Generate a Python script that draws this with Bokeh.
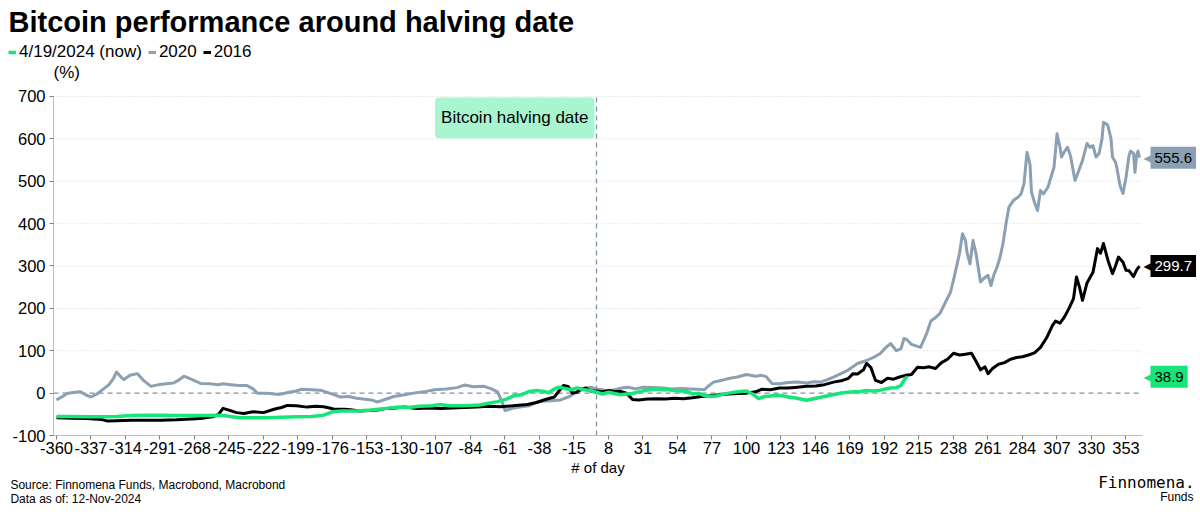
from bokeh.plotting import figure
from bokeh.models import Label, FixedTicker, Legend, LegendItem, Range1d
from bokeh.embed import file_html
from bokeh.resources import INLINE

# ---------------- data ----------------
x_ticks = [-360, -337, -314, -291, -268, -245, -222, -199, -176, -153, -130, -107, -84, -61, -38, -15,
           8, 31, 54, 77, 100, 123, 146, 169, 192, 215, 238, 261, 284, 307, 330, 353]
y_ticks = [-100, 0, 100, 200, 300, 400, 500, 600, 700]

now_days = [-360, -350, -340, -330, -320, -310, -300, -290, -280, -270, -260, -250, -244, -238, -230, -220,
            -210, -200, -190, -182, -176, -170, -160, -150, -140, -133, -126, -118, -110, -104, -98, -90,
            -84, -78, -72, -66, -60, -55, -50, -45, -40, -35, -32, -28, -25, -21, -17, -13, -8, -4, 0, 4,
            8, 12, 16, 20, 24, 28, 32, 36, 40, 44, 48, 52, 56, 60, 64, 68, 72, 76, 80, 84, 88, 92, 96, 100,
            104, 108, 112, 116, 120, 124, 128, 132, 136, 140, 144, 148, 152, 156, 160, 164, 168, 172, 176,
            180, 184, 188, 192, 196, 200, 203, 205, 207]
now_vals = [-55, -55, -56, -56, -55, -53, -52, -52, -53, -53, -53, -52, -55, -58, -58, -58,
            -57, -56, -55, -52, -44, -42, -42, -40, -36, -33, -34, -31, -30, -27, -30, -30,
            -29, -28, -24, -20, -14, -6, -4, 4, 6, 4, 1, 10, 14, 11, 8, 12, 8, 6, 2, -2,
            2, -1, -4, -2, -1, 3, 6, 8, 10, 8, 8, 6, 5, 4, -2, 0, -6, -8, -7, -3, 0, 2, 4, 5,
            -2, -13, -8, -7, -5, -6, -9, -11, -14, -17, -14, -11, -8, -5, -2, 1, 2, 3, 4,
            6, 5, 6, 9, 12, 13, 18, 30, 38.9]

y2016_days = [-360, -350, -340, -330, -326, -320, -310, -300, -290, -280, -270, -262, -256, -252, -249, -245,
              -240, -235, -229, -222, -215, -210, -206, -200, -193, -187, -182, -178, -175, -168, -164, -158,
              -152, -146, -140, -134, -128, -120, -112, -104, -96, -88, -80, -72, -64, -56, -50, -46, -40,
              -34, -28, -25, -22, -19, -16, -13, -10, -7, -4, 0, 4, 8, 12, 16, 20, 24, 28, 34, 40, 46, 52,
              58, 64, 70, 76, 82, 88, 94, 100, 106, 110, 116, 122, 128, 134, 140, 146, 152, 158, 164, 168,
              171, 174, 178, 180, 183, 186, 190, 194, 198, 202, 206, 210, 214, 218, 222, 226, 230, 234, 238,
              242, 246, 250, 253, 256, 259, 261, 264, 268, 272, 276, 280, 284, 288, 292, 296, 300, 304, 306,
              309, 312, 315, 318, 320, 322, 324, 327, 331, 334, 336, 338, 341, 344, 346, 348, 351, 353, 355,
              358, 360, 362]
y2016_vals = [-58, -59, -60, -62, -66, -65, -64, -64, -64, -63, -61, -59, -56, -50, -36, -40,
              -46, -48, -44, -46, -38, -34, -29, -30, -33, -31, -32, -35, -38, -38, -39, -42,
              -41, -40, -36, -35, -33, -36, -35, -36, -35, -34, -33, -31, -32, -30, -28, -27, -22,
              -15, -9, 5, 18, 16, 0, 2, 10, 12, 5, 5, 3, 6, 4, 4, 0, -15, -16, -14, -13, -14, -12,
              -13, -11, -8, -6, -4, -2, -1, 0, 3, 9, 8, 12, 12, 14, 16, 17, 20, 26, 30, 35,
              46, 45, 55, 70, 60, 30, 25, 35, 33, 38, 42, 44, 61, 60, 62, 58, 72, 80, 94,
              90, 92, 94, 75, 55, 62, 46, 58, 68, 72, 80, 84, 86, 90, 95, 108, 130, 160, 170,
              165, 180, 200, 223, 274, 250, 219, 260, 285, 341, 330, 353, 313, 282, 300, 321, 309, 290, 289,
              275, 290, 299.7]

y2020_days = [-360, -356, -353, -348, -344, -340, -337, -333, -329, -325, -322, -320, -317, -315, -311, -306,
              -302, -297, -292, -287, -282, -278, -275, -271, -267, -264, -258, -252, -249, -244, -238, -233,
              -229, -226, -220, -215, -211, -205, -200, -197, -190, -184, -178, -171, -165, -160, -157, -150,
              -146, -141, -135, -128, -122, -115, -108, -100, -93, -88, -82, -75, -70, -66, -63, -61, -56,
              -51, -45, -40, -37, -30, -24, -18, -13, -8, -4, 0, 4, 7, 12, 17, 21, 26, 31, 38, 44, 50, 56,
              62, 68, 72, 74, 78, 83, 89, 94, 100, 106, 110, 113, 117, 122, 128, 134, 140, 145, 149, 154,
              158, 163, 168, 174, 180, 185, 189, 193, 196, 200, 203, 205, 207, 210, 216, 220, 223, 226, 229,
              232, 236, 239, 242, 244, 246, 247, 249, 251, 253, 256, 258, 261, 263, 265, 267, 269, 271, 273,
              275, 278, 281, 283, 285, 287, 289, 290, 292, 294, 296, 298, 301, 303, 305, 307, 309, 310, 312,
              314, 316, 319, 321, 324, 327, 329, 331, 333, 335, 337, 338, 340, 341, 343, 344, 346, 347, 349,
              351, 353, 355, 356, 357, 358, 359, 360, 361, 362]
y2020_vals = [-16, -8, -1, 2, 3, -5, -9, -2, 9, 20, 35, 50, 38, 32, 42, 46,
              30, 16, 20, 22, 24, 32, 40, 34, 28, 23, 22, 20, 22, 20, 18, 18,
              10, 0, 0, -2, -3, 2, 5, 9, 8, 7, 0, -9, -8, -12, -13, -16,
              -21, -15, -8, -4, 0, 3, 8, 10, 13, 19, 15, 16, 10, 3, -20, -41, -36,
              -33, -30, -22, -19, -18, -16, -8, 4, 10, 14, 10, 8, 5, 8, 12, 14, 10, 14, 13, 12, 10, 11,
              10, 9, 8, 15, 26, 30, 35, 38, 44, 40, 42, 39, 23, 22, 25, 26, 24, 27, 26, 32,
              38, 46, 55, 70, 77, 85, 93, 108, 117, 100, 105, 129, 126, 115, 108, 140, 171, 178, 188,
              210, 238, 282, 330, 376, 360, 332, 305, 360, 330, 262, 270, 278, 254, 280, 297, 320, 353, 400,
              439, 455, 462, 470, 494, 568, 540, 474, 450, 431, 478, 470, 486, 510, 533, 612, 580, 557, 570,
              580, 560, 502, 520, 549, 589, 580, 584, 557, 565, 600, 639, 635, 631, 600, 557, 545, 530, 490,
              471, 509, 560, 571, 568, 566, 521, 560, 571, 555.6]

series_names = ["4/19/2024 (now)", "2020", "2016"]
last_values = [38.9, 555.6, 299.7]

# ---------------- style ----------------
GREEN = "#17E57A"
GREY = "#8BA0B3"
BLACK = "#000000"
ZERO = "#7E93A7"
FONT = "Liberation Sans"

# plotting area spans the whole canvas; axes are pinned at the data edges
X0, X1 = -362, 364          # visible axis extent (days)
Y0, Y1 = -100, 700          # visible axis extent (%)

p = figure(width=1200, height=514, output_backend="svg", toolbar_location=None,
           x_range=Range1d(-397.33, 402.67), y_range=Range1d(-286.4, 926.5),
           min_border=0, min_border_left=0, min_border_right=0, min_border_top=0, min_border_bottom=0)
p.outline_line_color = None
p.background_fill_color = "white"
p.border_fill_color = "white"
p.xgrid.visible = False
p.ygrid.visible = False

p.xaxis.ticker = FixedTicker(ticks=x_ticks)
p.yaxis.ticker = FixedTicker(ticks=y_ticks)
p.xaxis.major_label_overrides = {t: str(t) for t in x_ticks}
p.yaxis.major_label_overrides = {t: str(t) for t in y_ticks}
p.xaxis.fixed_location = Y0
p.yaxis.fixed_location = X0
p.xaxis.bounds = (X0, X1)
p.yaxis.bounds = (Y0, Y1)
for ax in (p.xaxis, p.yaxis):
    ax.axis_line_color = "#BDBDBD"
    ax.axis_line_width = 1
    ax.major_tick_line_color = "#7F7F7F"
    ax.major_tick_out = 4
    ax.major_tick_in = 0
    ax.minor_tick_line_color = None
    ax.major_label_text_font = FONT
    ax.major_label_text_font_size = "16.5px"
    ax.major_label_text_color = "black"
p.yaxis.major_label_standoff = 4
p.xaxis.major_label_standoff = 2
p.xaxis.axis_label = "# of day"
p.xaxis.axis_label_text_font = FONT
p.xaxis.axis_label_text_font_size = "15px"
p.xaxis.axis_label_text_font_style = "normal"
p.xaxis.axis_label_text_color = "black"
p.xaxis.axis_label_standoff = 2

# grid lines, zero line and halving line (built from the tick values)
grid_y = [t for t in y_ticks if t > 0]
p.segment(x0=[X0] * len(grid_y), y0=grid_y, x1=[X1] * len(grid_y), y1=grid_y,
          line_color="#D9D9D9", line_dash="1 2", line_width=1)
p.segment(x0=[X0], y0=[0], x1=[X1], y1=[0], line_color=ZERO, line_dash="5 4", line_width=1.3)
p.segment(x0=[0], y0=[Y0], x1=[0], y1=[Y1], line_color=ZERO, line_dash="5 4", line_width=1.3)

r_grey = p.line(y2020_days, y2020_vals, line_color=GREY, line_width=3, line_join="round")
r_black = p.line(y2016_days, y2016_vals, line_color=BLACK, line_width=3, line_join="round")
r_green = p.line(now_days, now_vals, line_color=GREEN, line_width=3.5, line_join="round")

legend = Legend(items=[LegendItem(label=series_names[0], renderers=[r_green]),
                       LegendItem(label=series_names[1], renderers=[r_grey]),
                       LegendItem(label=series_names[2], renderers=[r_black])],
                location=(8, 452), orientation="horizontal", padding=0, margin=0, spacing=6,
                label_standoff=3, glyph_width=8, glyph_height=18, label_height=18,
                label_text_font=FONT, label_text_font_size="17px", label_text_color="black",
                border_line_color=None, background_fill_alpha=0)
p.add_layout(legend, "center")

# halving annotation
p.add_layout(Label(x=0, y=Y1, x_offset=-2, y_offset=-1, text="Bitcoin halving date",
                   text_align="right", text_baseline="top", text_font=FONT, text_font_size="17px",
                   text_color="black", background_fill_color="#A8F5D0", border_radius=4, padding=(6, 11)))

# right-hand value tags
tag_cols = [(GREEN, "black"), (GREY, "black"), (BLACK, "white")]
for v, (bg, fg) in zip(last_values, tag_cols):
    p.add_layout(Label(x=X1, y=v, x_offset=1, text="\u25C0", text_color=bg, text_align="left",
                       text_baseline="middle", text_font="DejaVu Sans", text_font_size="12px"))
    p.add_layout(Label(x=X1, y=v, x_offset=8, text=f"{v}", text_color=fg, text_align="left",
                       text_baseline="middle", text_font=FONT, text_font_size="15px",
                       background_fill_color=bg, padding=(4, 6)))

# title, unit and footers
p.add_layout(Label(x=-392, y=874.6, text="Bitcoin performance around halving date", text_font=FONT,
                   text_font_size="29px", text_font_style="bold", text_baseline="middle",
                   text_color="black"))
p.add_layout(Label(x=-362, y=756.6, text="(%)", text_font=FONT, text_font_size="17px",
                   text_baseline="middle", text_color="black"))
p.add_layout(Label(x=-390.7, y=-215.7, text="Source: Finnomena Funds, Macrobond, Macrobond", text_font=FONT,
                   text_font_size="12px", text_baseline="middle", text_color="black"))
p.add_layout(Label(x=-390.7, y=-248.7, text="Data as of: 12-Nov-2024", text_font=FONT,
                   text_font_size="12px", text_baseline="middle", text_color="black"))
p.add_layout(Label(x=398.7, y=-212, text="Finnomena.", text_font="DejaVu Sans Mono",
                   text_font_size="16px", text_align="right", text_baseline="middle", text_color="black"))
p.add_layout(Label(x=398, y=-244, text="Funds", text_font=FONT,
                   text_font_size="12px", text_align="right", text_baseline="middle", text_color="black"))

open("out.html", "w").write(file_html(p, INLINE))
